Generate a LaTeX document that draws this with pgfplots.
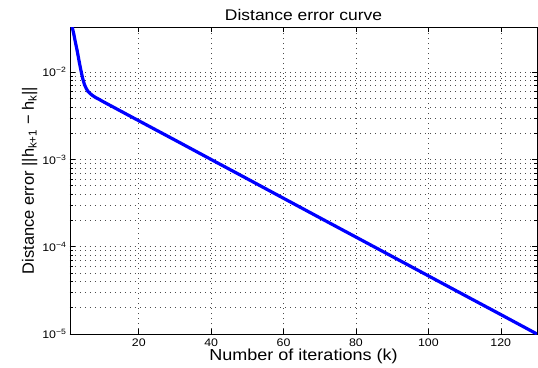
\documentclass[border=0pt]{standalone}
\usepackage{fontspec}
\setmainfont{Liberation Sans}[FakeStretch=1.13]
\newfontfamily\plainsans{Liberation Sans}
\usepackage{pgfplots}
\pgfplotsset{compat=1.18}
\begin{document}
\begin{tikzpicture}
\begin{semilogyaxis}[
  scale only axis,
  width=467bp, height=307bp,
  xmin=1, xmax=130,
  ymin=1e-5, ymax=0.033,
  xtick={20,40,60,80,100,120},
  minor x tick num=0,
  ytick={1e-5,1e-4,1e-3,1e-2},
  yticklabels={10\textsuperscript{−5},10\textsuperscript{−4},10\textsuperscript{−3},10\textsuperscript{−2}},
  /pgf/number format/assume math mode=true,
  tick label style={font=\fontsize{11}{13}\selectfont},
  xticklabel style={yshift=-1bp},
  tick align=inside,
  major tick length=5bp,
  minor tick length=3bp,
  tick style={black, line width=0.6bp},
  axis line style={black, line width=0.9bp},
  grid=both,
  major grid style={black!70, line width=0.6bp, dash pattern=on 0.8bp off 4.2bp},
  minor grid style={black!70, line width=0.6bp, dash pattern=on 0.8bp off 4.2bp},
  title={Distance error curve},
  title style={font=\fontsize{15.5}{17}\selectfont, yshift=-3bp},
  xlabel={Number of iterations (k)},
  xlabel style={font=\fontsize{16}{18}\selectfont, yshift=4bp},
  ylabel={\plainsans Distance error ||h\textsubscript{k+1} − h\textsubscript{k}||},
  ylabel style={font=\fontsize{16.5}{18}\selectfont, yshift=-2bp},
  clip=true,
]
\addplot[blue, line width=3.2bp, line join=round] coordinates {
(1,0.048) (1.6,0.033) (2,0.028) (2.5,0.022) (3,0.0175) (3.5,0.0135) (4,0.0106) (4.5,0.0085) (5,0.0072)
(5.5,0.0065) (6,0.0060) (7,0.0055) (8,0.00515) (9,0.0049) (10,0.00464)
(20,0.00278) (30,0.00167) (40,0.001) (50,0.0006) (60,0.000359) (70,0.000215)
(80,0.000129) (90,7.74e-5) (100,4.64e-5) (110,2.78e-5) (120,1.67e-5) (130,1e-5)
};
\end{semilogyaxis}
\pgfresetboundingbox
\path ([xshift=-70bp,yshift=-34bp]current axis.south west) rectangle ([xshift=1bp,yshift=27bp]current axis.north east);
\end{tikzpicture}
\end{document}
